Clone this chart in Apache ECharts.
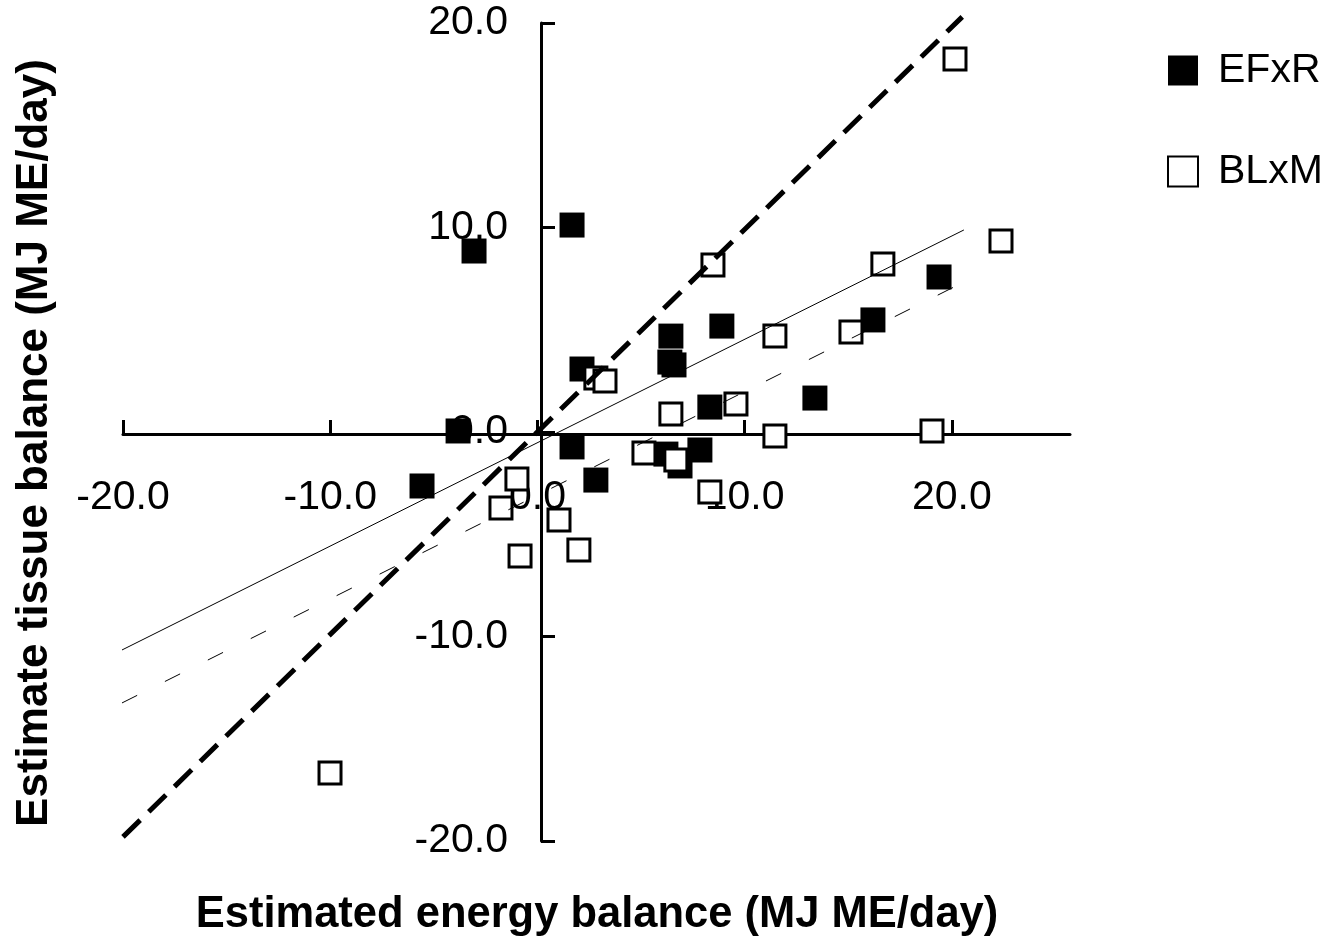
<!DOCTYPE html>
<html>
<head>
<meta charset="utf-8">
<title>Energy balance vs tissue balance</title>
<script src="https://cdn.jsdelivr.net/npm/echarts@6/dist/echarts.min.js"></script>
<style type="text/css">
html,body{margin:0;padding:0;background:#fff}
#chart_main{width:1327px;height:940px}
</style>
</head>
<body>
<div id="chart_main"></div>
<script type="text/javascript">
// EFxR (filled squares): [energy balance, tissue balance]
var efxr = [
	[1.67, 10.12], [-3.06, 8.85], [-3.83, 0.05], [-5.57, -2.64], [1.67, -0.73],
	[2.15, 3.08], [2.82, -2.35], [6.44, 4.69], [6.39, 3.42], [6.59, 3.28],
	[8.90, 5.18], [8.32, 1.22], [7.84, -0.88], [6.20, -1.08], [6.88, -1.66],
	[19.38, 7.58], [16.19, 5.48], [13.39, 1.66]
];
// BLxM (open squares)
var blxm = [
	[20.15, 18.24], [22.37, 9.34], [16.67, 8.22], [15.13, 4.89], [11.46, 4.69],
	[11.46, -0.20], [19.04, 0.05], [9.58, 1.37], [8.47, 8.17], [2.82, 2.64],
	[3.26, 2.49], [6.44, 0.88], [5.14, -1.03], [6.68, -1.37], [8.32, -2.93],
	[-0.99, -2.30], [-1.76, -3.72], [1.04, -4.30], [2.00, -5.77], [-0.84, -6.06],
	[-10.01, -16.67]
];
// fitted lines, end points
var line_equal = [[-20, -19.8], [20.5, 20.3]];
var line_solid = [[-20.05, -10.66], [20.58, 9.88]];
var line_dash = [[-20.05, -13.25], [20.2, 7.14]];
var x_ticks = [-20, -10, 0, 10, 20];

var font = "'Liberation Sans', Arial, sans-serif";
var myChart = echarts.init(document.getElementById('chart_main'), null, {renderer: 'canvas'});

function fmt(v){ return Number(v).toFixed(1); }

// axes cross at zero: shift them in from the grid edges
var x_offset = -(841 - 434);
var y_offset = -(541 - 123);

var option = {
	animation: false,
	backgroundColor: '#fff',
	textStyle: {fontFamily: font, color: '#000'},
	grid: {left: 123, right: 257, top: 23, bottom: 99, containLabel: false},
	legend: {
		data: ['EFxR', 'BLxM'],
		orient: 'vertical',
		left: 1167, top: 50, padding: 0,
		itemWidth: 30, itemHeight: 30, itemGap: 60,
		textStyle: {fontFamily: font, fontSize: 41, color: '#000', padding: [0, 0, 0, 15]}
	},
	xAxis: {
		type: 'value', min: -20, max: 25.7, position: 'bottom', offset: x_offset,
		splitLine: {show: false},
		axisLine: {onZero: false, lineStyle: {color: '#000', width: 3}},
		axisTick: {inside: true, length: 14, customValues: x_ticks, lineStyle: {color: '#000', width: 3}},
		axisLabel: {customValues: x_ticks, formatter: fmt, margin: 43, fontSize: 41, fontFamily: font, color: '#000'}
	},
	yAxis: {
		type: 'value', min: -20, max: 20, interval: 10, position: 'left', offset: y_offset,
		splitLine: {show: false},
		axisLine: {onZero: false, lineStyle: {color: '#000', width: 3}},
		axisTick: {inside: true, length: 14, lineStyle: {color: '#000', width: 3}},
		axisLabel: {formatter: fmt, margin: 33, fontSize: 41, fontFamily: font, color: '#000'}
	},
	graphic: [
		{type: 'text', x: 35, y: 443, rotation: Math.PI / 2,
			style: {text: 'Estimate tissue balance (MJ ME/day)', font: 'bold 44px ' + font, fill: '#000', align: 'center', verticalAlign: 'middle'}},
		{type: 'text', x: 597, y: 915,
			style: {text: 'Estimated energy balance (MJ ME/day)', font: 'bold 43.5px ' + font, fill: '#000', align: 'center', verticalAlign: 'middle'}}
	],
	series: [
		{name: 'y=x', type: 'line', data: line_equal, symbol: 'none', clip: false,
			lineStyle: {color: '#000', width: 5, type: [24, 12]}},
		{name: 'fit1', type: 'line', data: line_solid, symbol: 'none', clip: false,
			lineStyle: {color: '#000', width: 1}},
		{name: 'fit2', type: 'line', data: line_dash, symbol: 'none', clip: false,
			lineStyle: {color: '#000', width: 1, type: [17, 31]}},
		{name: 'EFxR', type: 'scatter', data: efxr, symbol: 'rect', symbolSize: 25,
			itemStyle: {color: '#000', borderWidth: 0, opacity: 1}},
		{name: 'BLxM', type: 'scatter', data: blxm, symbol: 'rect', symbolSize: 22,
			itemStyle: {color: '#fff', borderColor: '#000', borderWidth: 3, opacity: 1}}
	]
};
myChart.setOption(option);
</script>
</body>
</html>
